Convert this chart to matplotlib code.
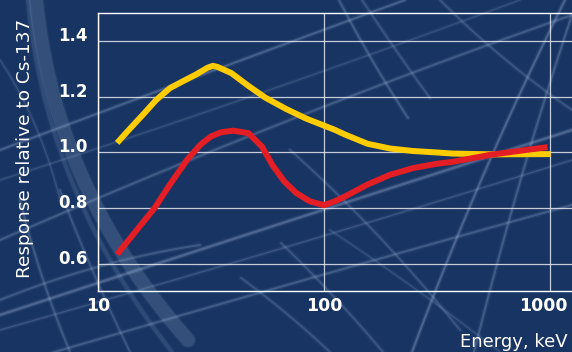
import numpy as np
import matplotlib
matplotlib.use('Agg')
import matplotlib.pyplot as plt
from matplotlib.ticker import NullLocator
from matplotlib.transforms import ScaledTranslation

# energy (keV) and relative response, two detector curves
energy_yellow = [12.15, 13.7, 15.8, 18.1, 20.8, 23.9, 27.0, 30.5, 32.2, 33.8, 38.9, 46.3, 55.0, 67.8, 83.4,
                 99.3, 111.5, 123, 155.7, 196, 248, 313, 369, 550, 1005]
resp_yellow = [1.034, 1.081, 1.135, 1.188, 1.23, 1.256, 1.278, 1.303, 1.31, 1.306, 1.284, 1.238, 1.196, 1.156, 1.121,
               1.097, 1.081, 1.065, 1.031, 1.014, 1.005, 1.0, 0.996, 0.993, 0.994]

energy_red = [12.15, 14.7, 17.8, 20.8, 24.8, 28.4, 31.6, 35.0, 39.6, 46.3, 53.1, 59.0, 66.7, 75.3, 86.5,
              100, 111.5, 123, 155.7, 196, 248, 313, 369, 550, 975]
resp_red = [0.635, 0.718, 0.801, 0.885, 0.974, 1.028, 1.057, 1.072, 1.078, 1.069, 1.021, 0.956, 0.896, 0.855, 0.825,
            0.811, 0.825, 0.841, 0.885, 0.920, 0.944, 0.959, 0.966, 0.992, 1.019]

xticks = [10, 100, 1000]
xticklabels = ['10', '100', '1000']
yticks = [0.6, 0.8, 1.0, 1.2, 1.4]
yticklabels = ['0.6', '0.8', '1.0', '1.2', '1.4']

bg = '#183462'
W, H = 572, 352


def bez(p0, p1, p2, n=80):
    t = np.linspace(0, 1, n)[:, None]
    p0, p1, p2 = np.array(p0), np.array(p1), np.array(p2)
    pts = (1 - t) ** 2 * p0 + 2 * (1 - t) * t * p1 + t ** 2 * p2
    return pts[:, 0], pts[:, 1]


fig = plt.figure(figsize=(W / 100, H / 100), dpi=100)
fig.patch.set_facecolor(bg)

# background streaks, in pixel coords
bgax = fig.add_axes([0, 0, 1, 1], zorder=-1)
bgax.set_xlim(0, W)
bgax.set_ylim(H, 0)
bgax.axis('off')
streaks = [
    ((36, 0), (55, 190), (188, 340), 14, 0.15),
    ((28, 0), (45, 190), (172, 352), 4, 0.12),
    ((0, 150), (200, 75), (405, 0), 2, 0.25),
    ((0, 240), (300, 110), (572, 15), 2, 0.22),
    ((0, 180), (250, 100), (520, 0), 1.5, 0.15),
    ((0, 315), (290, 220), (572, 130), 2.5, 0.28),
    ((0, 330), (300, 245), (572, 160), 1.5, 0.18),
    ((0, 368), (300, 280), (572, 205), 2, 0.22),
    ((339, 0), (370, 60), (408, 118), 2, 0.22),
    ((362, 0), (395, 50), (430, 98), 2, 0.18),
    ((412, 352), (480, 170), (565, 0), 2, 0.28),
    ((474, 352), (520, 170), (572, 15), 2, 0.22),
    ((241, 278), (285, 310), (330, 352), 2, 0.18),
    ((281, 243), (335, 295), (383, 352), 2, 0.18),
    ((290, 150), (380, 230), (460, 330), 2, 0.18),
    ((330, 230), (420, 290), (500, 352), 1.5, 0.15),
    ((20, 200), (40, 280), (70, 352), 2, 0.2),
    ((60, 190), (90, 270), (130, 352), 2, 0.18),
    ((0, 300), (100, 260), (200, 245), 2, 0.2),
    ((440, 0), (500, 60), (572, 110), 2, 0.18),
    ((0, 60), (40, 120), (60, 200), 1.5, 0.15),
]
for p0, p1, p2, lw, a in streaks:
    xs, ys = bez(p0, p1, p2)
    bgax.plot(xs, ys, color='#a9c2e6', lw=lw * 0.72 + 2, alpha=a * 0.35, solid_capstyle='round')
    bgax.plot(xs, ys, color='#a9c2e6', lw=lw * 0.72, alpha=a, solid_capstyle='round')

# main chart
ax = fig.add_axes([98 / W, 1 - 290.7 / H, 1 - 98 / W, 277.4 / H])
ax.set_facecolor('none')
ax.set_xscale('log')
ax.set_xlim(10, 1251)
ax.set_ylim(0.505, 1.498)
ax.xaxis.set_minor_locator(NullLocator())
ax.set_xticks(xticks)
ax.set_xticklabels(xticklabels)
ax.set_yticks(yticks)
ax.set_yticklabels(yticklabels)

ax.grid(True, color='#e4e9f2', lw=0.9, alpha=0.85)
ax.set_axisbelow(True)
for side in ['left', 'top', 'bottom']:
    ax.spines[side].set_color('white')
    ax.spines[side].set_linewidth(1.0)
ax.spines['right'].set_visible(False)

ax.tick_params(axis='both', length=0, colors='white')
ax.tick_params(axis='y', pad=7.2, labelsize=12)
ax.tick_params(axis='x', pad=4.8, labelsize=12.5)
for lab in ax.get_xticklabels() + ax.get_yticklabels():
    lab.set_fontweight('bold')
for t in ax.yaxis.get_major_ticks():
    t.label1.set_va('baseline')
# keep the last x label inside the figure
last = ax.xaxis.get_major_ticks()[-1].label1
last.set_transform(last.get_transform() + ScaledTranslation(-5 / 72, 0, fig.dpi_scale_trans))

ax.plot(energy_yellow, resp_yellow, color='#ffcc00', lw=4.3, solid_capstyle='butt', solid_joinstyle='round')
ax.plot(energy_red, resp_red, color='#e31e24', lw=4.3, solid_capstyle='butt', solid_joinstyle='round')

fig.text(25.5 / W, 1 - 148.5 / H, 'Response relative to Cs-137', rotation=90,
         ha='center', va='center', fontsize=13.3, color='white')
fig.text(568 / W, 1 - 347 / H, 'Energy, keV', ha='right', va='baseline',
         fontsize=13, color='white')

fig.savefig('out.png', dpi=100, facecolor=bg)
